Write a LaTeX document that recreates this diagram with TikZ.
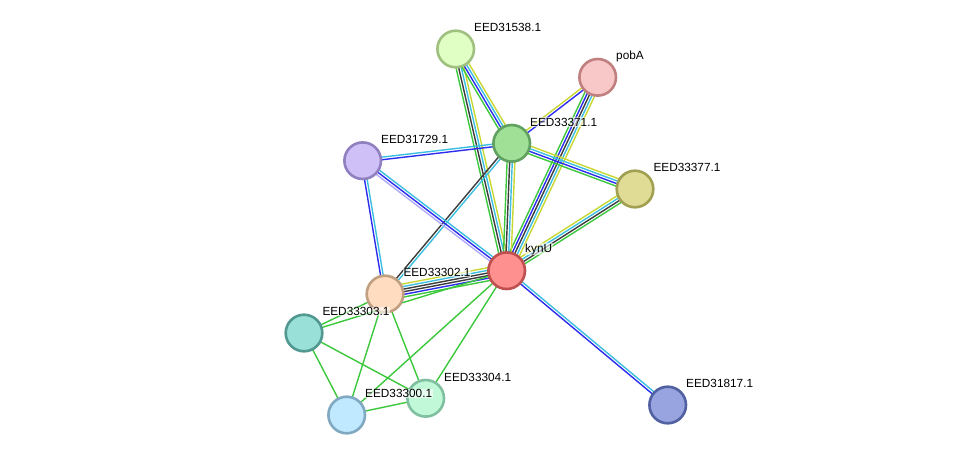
\documentclass[tikz,border=0pt]{standalone}
\usepackage{fontspec}
\setmainfont{Liberation Sans}
\usetikzlibrary{calc,backgrounds}

% evidence colours
\definecolor{nbh}{RGB}{60,200,60}
\definecolor{cooc}{RGB}{45,45,240}
\definecolor{coex}{RGB}{60,60,60}
\definecolor{db}{RGB}{60,190,225}
\definecolor{txt}{RGB}{200,215,50}
\definecolor{hom}{RGB}{175,170,250}

% one edge = several parallel lines: from, to, number of lines, colours
\newcommand{\strlink}[4]{%
  \foreach \c [count=\i] in {#4}{
    \pgfmathsetmacro{\off}{(\i-(#3+1)/2)*2.6}
    \draw[link, draw=\c] ($(#1.center)!\off pt!90:(#2.center)$) -- ($(#2.center)!\off pt!-90:(#1.center)$);
  }}

\begin{document}
\begin{tikzpicture}[
    x=1pt, y=-1pt,
    prot/.style={circle, draw, line width=2.6pt, minimum size=36.6pt, inner sep=0pt},
    lbl/.style={font=\fontsize{11.8}{14}\selectfont, xshift=-1.8pt, yshift=21.3pt,
                inner sep=0.5pt, fill=white, fill opacity=0.6, text opacity=1},
    link/.style={line width=1.4pt}
]
\useasboundingbox (0,0) rectangle (976,460);

% Proteins
\node[prot, fill={rgb,255:red,224;green,255;blue,196}, draw={rgb,255:red,160;green,192;blue,128}, label={[lbl]right:EED31538.1}] (n31538) at (455.7,49) {};
\node[prot, fill={rgb,255:red,248;green,200;blue,200}, draw={rgb,255:red,192;green,128;blue,128}, label={[lbl]right:pobA}] (pobA) at (597.7,77.3) {};
\node[prot, fill={rgb,255:red,160;green,224;blue,150}, draw={rgb,255:red,96;green,160;blue,96}, label={[lbl]right:EED33371.1}] (n33371) at (511.7,143.3) {};
\node[prot, fill={rgb,255:red,208;green,192;blue,248}, draw={rgb,255:red,144;green,128;blue,192}, label={[lbl]right:EED31729.1}] (n31729) at (362.7,160.7) {};
\node[prot, fill={rgb,255:red,224;green,220;blue,150}, draw={rgb,255:red,160;green,160;blue,80}, label={[lbl]right:EED33377.1}] (n33377) at (635,189) {};
\node[prot, fill={rgb,255:red,255;green,144;blue,144}, draw={rgb,255:red,192;green,80;blue,80}, label={[lbl]right:kynU}] (kynU) at (506.7,270.7) {};
\node[prot, fill={rgb,255:red,255;green,220;blue,192}, draw={rgb,255:red,192;green,160;blue,128}, label={[lbl]right:EED33302.1}] (n33302) at (385,294) {};
\node[prot, fill={rgb,255:red,152;green,224;blue,216}, draw={rgb,255:red,80;green,152;blue,144}, label={[lbl]right:EED33303.1}] (n33303) at (304,333) {};
\node[prot, fill={rgb,255:red,192;green,248;blue,216}, draw={rgb,255:red,128;green,192;blue,160}, label={[lbl]right:EED33304.1}] (n33304) at (425.7,398.3) {};
\node[prot, fill={rgb,255:red,192;green,232;blue,255}, draw={rgb,255:red,128;green,168;blue,192}, label={[lbl]right:EED33300.1}] (n33300) at (346.7,415) {};
\node[prot, fill={rgb,255:red,152;green,164;blue,224}, draw={rgb,255:red,80;green,96;blue,160}, label={[lbl]right:EED31817.1}] (n31817) at (667.7,405) {};

% Interactions
\begin{scope}[on background layer]
\strlink{n31538}{kynU}{4}{nbh,coex,db,txt}
\strlink{n31538}{n33371}{4}{nbh,cooc,db,txt}
\strlink{pobA}{n33371}{2}{txt,cooc}
\strlink{pobA}{kynU}{5}{nbh,cooc,coex,db,txt}
\strlink{n33371}{n31729}{2}{db,cooc}
\strlink{n33371}{n33377}{4}{nbh,cooc,db,txt}
\strlink{n33371}{kynU}{4}{nbh,coex,db,txt}
\strlink{n33371}{n33302}{2}{coex,db}
\strlink{n31729}{kynU}{3}{hom,cooc,db}
\strlink{n31729}{n33302}{2}{cooc,db}
\strlink{n33377}{kynU}{4}{txt,db,coex,nbh}
\strlink{kynU}{n33302}{6}{txt,db,coex,coex,cooc,nbh}
\strlink{kynU}{n31817}{2}{cooc,db}
\strlink{kynU}{n33303}{1}{nbh}
\strlink{kynU}{n33304}{1}{nbh}
\strlink{kynU}{n33300}{1}{nbh}
\strlink{n33302}{n33303}{1}{nbh}
\strlink{n33302}{n33300}{1}{nbh}
\strlink{n33302}{n33304}{1}{nbh}
\strlink{n33303}{n33300}{1}{nbh}
\strlink{n33303}{n33304}{1}{nbh}
\strlink{n33300}{n33304}{1}{nbh}
\end{scope}

\end{tikzpicture}
\end{document}
